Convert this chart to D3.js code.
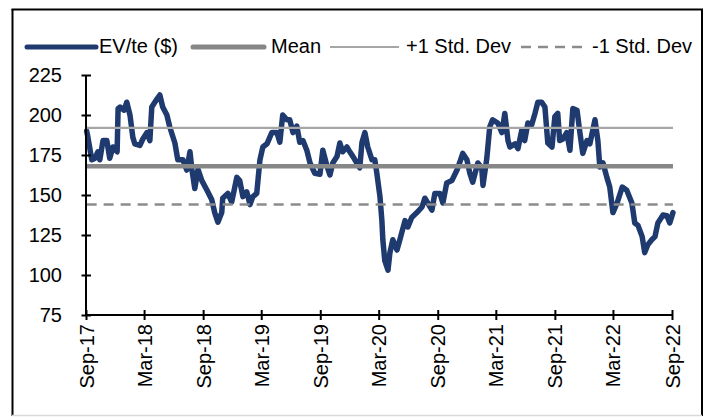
<!DOCTYPE html>
<html>
<head>
<meta charset="utf-8">
<script src="https://cdn.jsdelivr.net/npm/d3@7/dist/d3.min.js"></script>
<style>
  html, body { margin: 0; padding: 0; background: #fff; }
  svg { display: block; font-family: "Liberation Sans", Arial, sans-serif; }
</style>
</head>
<body>
<svg id="chart" width="715" height="417"></svg>
<script>
// EV/te ($) series, dates and values
const dates = [
  "2017-09-03","2017-09-07","2017-09-19","2017-09-29","2017-10-08","2017-10-14","2017-10-24","2017-11-05","2017-11-14","2017-11-24",
  "2017-12-07","2017-12-10","2017-12-16","2017-12-29","2018-01-06","2018-01-16","2018-01-25","2018-01-31","2018-02-16","2018-02-25",
  "2018-03-10","2018-03-19","2018-03-25","2018-04-10","2018-04-19","2018-04-28","2018-05-11","2018-05-20","2018-06-05","2018-06-14",
  "2018-06-30","2018-07-12","2018-07-22","2018-07-28","2018-08-06","2018-08-16","2018-08-28","2018-09-13","2018-09-28","2018-10-07",
  "2018-10-17","2018-10-29","2018-11-01","2018-11-17","2018-11-29","2018-12-15","2018-12-24","2019-01-03","2019-01-15","2019-01-25",
  "2019-02-03","2019-02-15","2019-02-25","2019-03-06","2019-03-19","2019-04-03","2019-04-19","2019-04-28","2019-05-07","2019-05-20",
  "2019-05-29","2019-06-08","2019-06-20","2019-06-29","2019-07-09","2019-07-21","2019-07-31","2019-08-15","2019-08-31","2019-09-09",
  "2019-09-22","2019-10-01","2019-10-10","2019-10-23","2019-11-01","2019-11-10","2019-11-23","2019-12-02","2019-12-12","2019-12-24",
  "2020-01-02","2020-01-09","2020-01-18","2020-01-27","2020-02-09","2020-02-18","2020-02-24","2020-03-05","2020-03-11","2020-03-14",
  "2020-03-20","2020-03-30","2020-04-05","2020-04-14","2020-04-27","2020-05-06","2020-05-22","2020-05-31","2020-06-12","2020-06-28",
  "2020-07-14","2020-07-23","2020-08-01","2020-08-14","2020-08-23","2020-09-08","2020-09-17","2020-09-29","2020-10-15","2020-10-31",
  "2020-11-09","2020-11-18","2020-12-01","2020-12-10","2020-12-19","2021-01-04","2021-01-16","2021-01-20","2021-02-01","2021-02-10",
  "2021-02-19","2021-03-07","2021-03-20","2021-03-29","2021-04-08","2021-04-14","2021-04-30","2021-05-09","2021-05-21","2021-05-30",
  "2021-06-09","2021-06-21","2021-07-01","2021-07-10","2021-07-22","2021-08-01","2021-08-10","2021-08-23","2021-09-01","2021-09-10",
  "2021-09-16","2021-09-26","2021-10-08","2021-10-18","2021-10-27","2021-11-09","2021-11-18","2021-11-27","2021-12-10","2021-12-19",
  "2022-01-04","2022-01-13","2022-01-19","2022-01-29","2022-02-10","2022-02-19","2022-03-01","2022-03-14","2022-03-30","2022-04-13",
  "2022-04-29","2022-05-08","2022-05-18","2022-05-31","2022-06-08","2022-06-18","2022-06-30","2022-07-10","2022-07-19","2022-08-04",
  "2022-08-16","2022-08-25","2022-09-04"
];
const evte = [
  190,186,172,173,177,172,184,184,173,180,
  177,204,205,203,208,200,186,182,181,185,
  189,184,205,210,212.5,205,200,192.5,182.5,172,
  172,165.6,177,166,154,166,159,153,147,139,
  133,139,148,151,145.6,161,159,149,152,144,
  149,151,172,180,182,189,189,183,200,197,
  197,189,193,183,184,178,170,163.6,163,178,
  168,162.5,170,174,182.5,177,180,177,174,170,
  167,183,189,180,172,172,164,149,134,122,
  109,103,114,122,115.6,122,134,130,136,139,
  142.5,148,145,140.6,151,151,145,157.5,159,165.6,
  170.6,176,172,163.6,158,170,167,156,173,192.5,
  197,195,189,201,184,180,182,179,190.6,184,
  195,194,201,208,208,205,182.5,180,199,201,
  184,185,189,178,204,203,189,176,184,182,
  197,184,167.5,170,161,155,139,145,155,153,
  145,132.5,131,124,114,119,122,124,132.5,137.5,
  137,132.5,139
];

// Reference levels
const meanValue = 168;
const plusOneSd = 192;
const minusOneSd = 144;

// Axis ticks
const yTicks = [75, 100, 125, 150, 175, 200, 225];
const xTickDates = ["2017-09-01","2018-03-01","2018-09-01","2019-03-01","2019-09-01","2020-03-01",
                    "2020-09-01","2021-03-01","2021-09-01","2022-03-01","2022-09-01"];
const xTickLabels = ["Sep-17","Mar-18","Sep-18","Mar-19","Sep-19","Mar-20",
                     "Sep-20","Mar-21","Sep-21","Mar-22","Sep-22"];

const legendLabels = ["EV/te ($)", "Mean", "+1 Std. Dev", "-1 Std. Dev"];

const parse = d3.timeParse("%Y-%m-%d");
const series = dates.map((d, i) => ({ date: parse(d), value: evte[i] }));

const navy = "#1f3a6f";
const meanColor = "#878787";
const sdColor = "#a6a6a6";
const dashColor = "#8c8c8c";

const svg = d3.select("#chart");

// Frame
svg.append("line").attr("x1", 12.5).attr("y1", 9).attr("x2", 12.5).attr("y2", 416)
  .attr("stroke", "#000").attr("stroke-width", 2);
svg.append("line").attr("x1", 11.5).attr("y1", 9.5).attr("x2", 703).attr("y2", 9.5)
  .attr("stroke", "#000").attr("stroke-width", 2);
svg.append("line").attr("x1", 702).attr("y1", 9).attr("x2", 702).attr("y2", 416)
  .attr("stroke", "#000").attr("stroke-width", 2);
svg.append("line").attr("x1", 12).attr("y1", 415.5).attr("x2", 702).attr("y2", 415.5)
  .attr("stroke", "#d9d9d9").attr("stroke-width", 1.5);

const x = d3.scaleTime()
  .domain([parse("2017-09-01"), parse("2022-09-01")])
  .range([86, 672]);
const y = d3.scaleLinear().domain([75, 225]).range([315, 75]);

// Series line
const line = d3.line().x(d => x(d.date)).y(d => y(d.value));
svg.append("path")
  .datum(series)
  .attr("fill", "none")
  .attr("stroke", navy)
  .attr("stroke-width", 5.5)
  .attr("stroke-linejoin", "round")
  .attr("stroke-linecap", "round")
  .attr("d", line);

// Mean and standard deviation bands
const x0 = x(series[0].date), x1 = x(series[series.length - 1].date);
svg.append("line").attr("x1", x0).attr("x2", x1)
  .attr("y1", y(meanValue)).attr("y2", y(meanValue))
  .attr("stroke", meanColor).attr("stroke-width", 4.5);
svg.append("line").attr("x1", x0).attr("x2", x1)
  .attr("y1", y(plusOneSd)).attr("y2", y(plusOneSd))
  .attr("stroke", sdColor).attr("stroke-width", 2.2);
svg.append("line").attr("x1", x0).attr("x2", x1)
  .attr("y1", y(minusOneSd)).attr("y2", y(minusOneSd))
  .attr("stroke", dashColor).attr("stroke-width", 2.5)
  .attr("stroke-dasharray", "10,7");

// Y axis
const yAxis = svg.append("g")
  .attr("transform", "translate(86,0)")
  .call(d3.axisLeft(y).tickValues(yTicks).tickSize(4).tickFormat(d3.format("d")));
yAxis.select(".domain").attr("stroke", "#000").attr("stroke-width", 2)
  .attr("d", `M0,${y(225)}V${y(75)}`);
yAxis.selectAll(".tick line").attr("x1", -4.5).attr("x2", 5).attr("stroke", "#000").attr("stroke-width", 2);
yAxis.selectAll(".tick text")
  .attr("x", -24).attr("font-size", 20).attr("fill", "#000")
  .attr("font-family", "Liberation Sans, Arial, sans-serif");

// X axis
const xAxis = svg.append("g")
  .attr("transform", "translate(0,315)")
  .call(d3.axisBottom(x).tickValues(xTickDates.map(parse)).tickSize(4)
    .tickFormat((d, i) => xTickLabels[i]));
xAxis.select(".domain").attr("stroke", "#000").attr("stroke-width", 2)
  .attr("d", `M${x(parse("2017-09-01"))},0H${x(parse("2022-09-01"))}`);
xAxis.selectAll(".tick line").attr("y1", -5).attr("y2", 5).attr("stroke", "#000").attr("stroke-width", 2);
xAxis.selectAll(".tick text")
  .attr("font-size", 20).attr("fill", "#000")
  .attr("font-family", "Liberation Sans, Arial, sans-serif")
  .attr("transform", "rotate(-90)")
  .attr("text-anchor", "end")
  .attr("x", -9).attr("y", 0).attr("dy", "0.35em");

// Legend
const legendY = 46;
const legendItems = [
  { label: legendLabels[0], x1: 27, x2: 96, tx: 99, color: navy, w: 5, dash: null, cap: "round" },
  { label: legendLabels[1], x1: 193, x2: 264, tx: 271, color: meanColor, w: 5, dash: null, cap: "round" },
  { label: legendLabels[2], x1: 330, x2: 399, tx: 406, color: sdColor, w: 2.2, dash: null, cap: "butt" },
  { label: legendLabels[3], x1: 521, x2: 586, tx: 592, color: dashColor, w: 2.5, dash: "10,7", cap: "butt" }
];
const lg = svg.append("g");
legendItems.forEach(it => {
  lg.append("line").attr("x1", it.x1).attr("x2", it.x2).attr("y1", legendY + 1).attr("y2", legendY + 1)
    .attr("stroke", it.color).attr("stroke-width", it.w)
    .attr("stroke-linecap", it.cap)
    .attr("stroke-dasharray", it.dash);
  lg.append("text").attr("x", it.tx).attr("y", legendY).attr("dy", "0.35em")
    .attr("font-size", 20).attr("fill", "#000").text(it.label);
});
</script>
</body>
</html>
